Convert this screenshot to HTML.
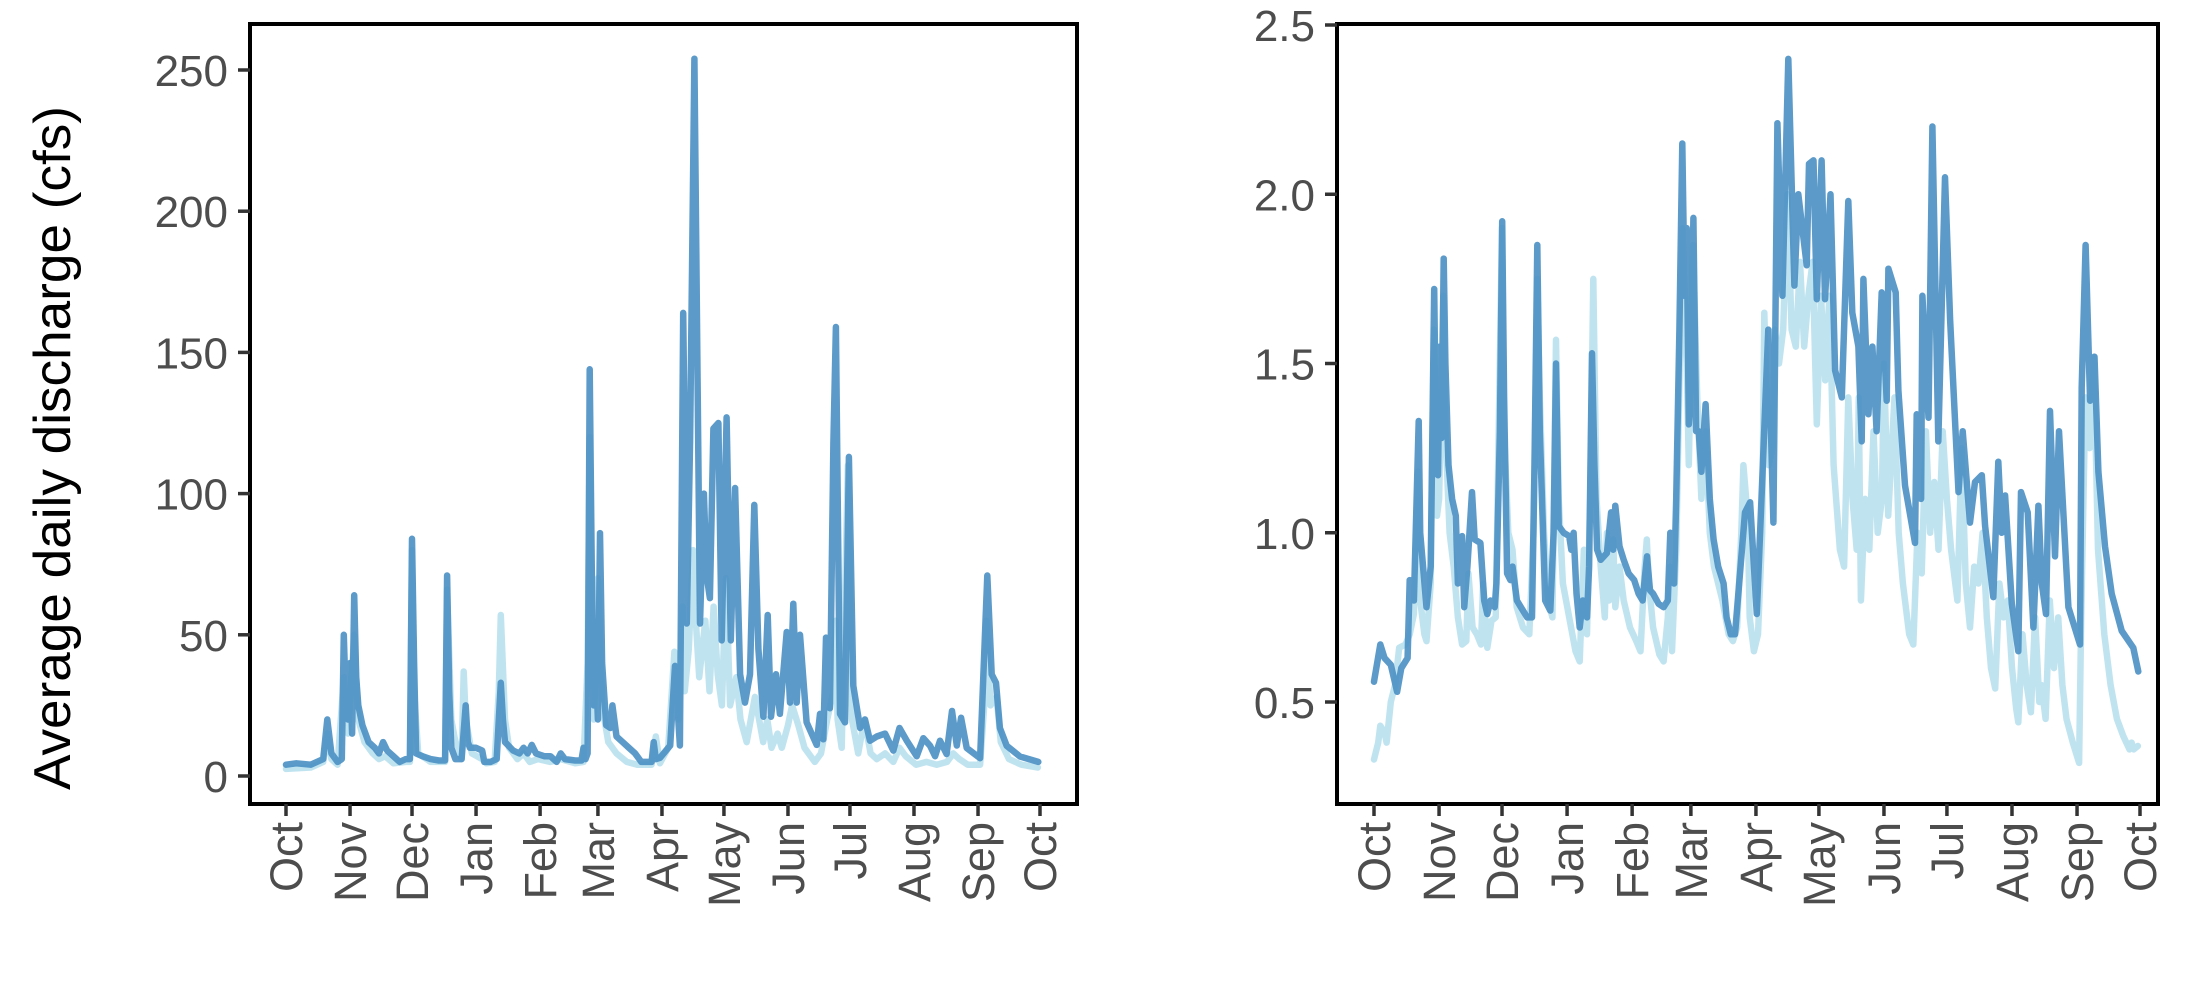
<!DOCTYPE html>
<html><head><meta charset="utf-8"><style>
html,body{margin:0;padding:0;background:#fff}
svg{display:block}
text{font-family:"Liberation Sans",Arial,sans-serif}
</style></head><body>
<svg id="chart" width="2200" height="1000" viewBox="0 0 2200 1000" xmlns="http://www.w3.org/2000/svg">
<text x="0" y="0" transform="translate(70,448) rotate(-90)" text-anchor="middle" font-size="52" fill="#000" textLength="684" lengthAdjust="spacingAndGlyphs">Average daily discharge (cfs)</text>
<g id="left-panel"></g>
<g id="right-panel"></g>
</svg>
<script>
const months = ["Oct","Nov","Dec","Jan","Feb","Mar","Apr","May","Jun","Jul","Aug","Sep","Oct"];
const monthDays = [0,31,61,92,123,151,182,212,243,273,304,335,365];
const leftTicks = [0,50,100,150,200,250];
const rightTicks = [0.5,1.0,1.5,2.0,2.5];
const rightTickLabels = ["0.5","1.0","1.5","2.0","2.5"];

const leftDarkDays = [0,5,12,18,20,22,25,27,28,29,30,31,32,33,34,35,37,40,43,45,47,49,52,55,58,60,61,62,63,66,70,74,77,78,79,80,82,85,87,88,89,92,95,96,99,102,104,105,106,110,113,115,117,119,121,125,128,131,133,135,140,143,144,145,146,147,148,149,150,151,152,153,155,157,158,160,163,166,169,172,177,178,179,181,186,188.3,190.7,192.3,194,195.6,197.7,199.1,200.4,202.3,203.6,205.2,206.9,209.3,210.9,213.3,215.3,217.4,219.8,222.2,224.6,226.7,228.7,231.1,233.2,234.8,237.2,239.1,242.4,244,245.6,247.2,248.8,252,256.9,258.5,260.1,261.4,263.3,265,266.2,268.2,270.6,272.5,274.6,277.9,280.3,282.7,286,290,294,297,300.5,305.3,308.5,311.8,314.2,316.6,319.8,322.4,324.7,326.8,329.5,336,337.6,339.5,341.6,343.7,345.6,348.9,355.3,364.2];
const leftDarkVals = [4,4.5,4,6,20,8,5,6,50,25,20,40,15,64,35,25,18,12,10,8,12,9,7,5,6,6,84,40,8,7,6,5.5,5.5,71,30,10,6,6,25,12,10,10,9,5,5,6,33,20,12,9,8,10,8,11,8,7,7,5,8,6,5.5,5.5,10,6,8,144,75,25,40,20,86,40,18,17,25,14,12,10,8,5,5,12,6,6.4,10.8,39,10.8,164,54,119,254,150,54,100,71,63,123,125,48,127,48,102,36,26,36,96,45,21,57,21,36,22,51,26,61,26,50,19,11,22,13,49,24,118,159,22,19,113,32,17,20,12.5,14,15,9,17,12.5,7,13.4,10.7,7,12.5,7.8,23,10.8,20.6,9.9,6.3,36,71,36,33,17,10.7,6.9,5];
const leftLightDays = [0,12,18,20,22,25,28,30,33,35,38,42,45,48,52,58,60,61,62,64,70,77,78,80,82,85,86,87,90,95,97,101,103,104,106,108,112,115,118,122,128,133,140,144,146,147,149,151,153,156,160,165,170,177,179,181,185,188,190,192,193,195,197,198,200,203,205,207,209,211,213,215,218,220,223,227,229,231,233,235,238,240,243,245,248,251,256,259,262,265,266,267,269,272,274,277,280,283,286,290,294,297,300,305,310,315,320,323,326,330,336,338,339,341,344,346,350,356,364];
const leftLightVals = [2.5,3,5,15,6,4,35,15,50,20,12,8,6,7,4.5,5,5,80,30,8,5,5,66,20,12,6,37,20,8,6,4.5,5,30,57,20,10,6,8,5,6,5,6,4.5,5,40,120,20,70,25,12,8,5,4,4,14,4.5,10,44,20,60,30,45,80,60,35,55,30,60,36,25,70,25,35,20,12,28,20,12,20,10,15,10,18,25,18,10,5,8,20,30,55,20,10,110,20,8,20,8,6,8,5,10,7,4,5,4,5,8,6,4,4,25,55,25,28,12,6,4,3];

const rightDarkDays = [0,3,5,8,11,13,16,17,19,21.3,22,25,27,28.7,29.5,30.5,31.3,32.2,33.2,34,35.5,37.2,39,40,42,43,44.5,46.7,48,50.7,52.5,54,55.5,57.5,58.3,60,61.1,62,63.4,65,66,68.1,70,73,75.3,76.5,77.8,79,81.6,84,85.6,86.7,88,90.4,93,94,95.1,96.5,98,99.5,101.5,102.5,103.9,105,106.3,108,111,113,114,115,117,119,121.3,124,126.1,128,130.1,131.5,133,135.6,138,140,141.2,143,144,145.5,146.9,148,149,150,151,152.2,153.5,154.7,156,158,160,161.8,164,166.6,168,170,172,176.8,179.2,182.4,184.7,187.9,190.3,192.2,194.6,197.4,200.3,202.2,206.2,207.3,209.4,211,213.3,214.9,217.5,219.7,222.9,226,227.9,230.8,232.4,233.2,235.6,237.5,239.5,241.9,244.3,245.1,248.6,249.9,253,257.8,258.6,260.7,261.3,264.2,266.1,268.9,272.1,274.5,278.5,280.5,284,286.4,289.6,291.2,295.1,297.5,299.1,300.7,303.9,307,308.3,311.5,314.2,316.6,318.2,320.2,322.1,324.5,326.4,330.9,336.4,337.2,339.1,341.2,343.3,345.2,348.3,351.5,356.3,361.8,364.2];
const rightDarkVals = [0.56,0.67,0.63,0.61,0.53,0.6,0.63,0.86,0.8,1.33,1.0,0.78,0.9,1.72,1.3,1.17,1.55,1.28,1.81,1.5,1.2,1.1,1.05,0.85,0.99,0.78,0.9,1.12,0.98,0.97,0.8,0.76,0.8,0.78,0.85,1.3,1.92,1.4,0.88,0.86,0.9,0.8,0.78,0.75,0.75,1.2,1.85,1.3,0.8,0.77,1.0,1.5,1.02,1.0,0.99,0.95,1.0,0.82,0.72,0.8,0.75,0.9,1.53,1.2,0.95,0.92,0.94,1.06,0.95,1.08,0.96,0.92,0.88,0.86,0.82,0.8,0.93,0.83,0.82,0.79,0.78,0.8,1.0,0.85,1.1,1.6,2.15,1.7,1.9,1.32,1.4,1.93,1.3,1.3,1.18,1.38,1.1,0.98,0.9,0.85,0.75,0.7,0.7,1.06,1.09,0.76,1.11,1.6,1.03,2.21,1.7,2.4,1.73,2.0,1.79,2.09,2.1,1.69,2.1,1.69,2.0,1.48,1.4,1.98,1.65,1.55,1.27,1.75,1.35,1.55,1.3,1.71,1.39,1.78,1.71,1.42,1.14,0.97,1.35,1.1,1.7,1.34,2.2,1.27,2.05,1.63,1.12,1.3,1.03,1.15,1.17,1.02,0.81,1.21,1.0,1.11,0.79,0.65,1.12,1.06,0.72,1.08,0.85,0.76,1.36,0.93,1.3,0.78,0.67,1.43,1.85,1.39,1.52,1.18,0.96,0.82,0.71,0.66,0.59];
const rightLightDays = [0,2,3,5,6,8,10,12,15,17,19,21,22,24,25,27,28.5,30,31,33,34,36,38,40,42,44,45,47,49,51,52,54,56,58,61,62,64,66,68,71,74,76,77.8,79,81,83,85,86.7,88,90,93,96,98,100,101.5,103,104.5,106,108,110,111,112,114,115,117,119,122,125,127,129,130,131,133,136,138,140,141,142,144,146,147,149,150,152,154,156,158,160,162,166,169,171,173,175,176,178,179,181,183,185,186,188,190,191,193,195,197,199,201,203,205,207,209,211,213,215,217,219,222,224,226,228,230,231,232,234,236,238,240,242,243,245,248,250,252,255,257,259,261,263,265,267,269,271,273,275,278,280,282,284,286,288,290,292,294,296,298,300,302,304,306,307,309,311,313,315,317,318,320,322,324,326,328,330,333,336,337,339,341,343,345,348,351,354,357,360,361,362,364];
const rightLightVals = [0.33,0.38,0.43,0.41,0.38,0.5,0.55,0.66,0.67,0.7,0.76,1.18,0.8,0.7,0.68,0.85,1.6,1.05,1.1,1.7,1.3,1.0,0.9,0.75,0.67,0.68,0.88,0.72,0.7,0.67,0.85,0.66,0.74,0.75,1.9,1.3,1.0,0.95,0.78,0.72,0.7,1.0,1.75,1.4,1.0,0.8,0.75,1.57,1.1,0.85,0.75,0.65,0.62,0.95,0.7,1.1,1.75,1.1,0.9,0.75,1.0,0.8,0.98,0.78,0.9,0.8,0.72,0.68,0.65,0.9,0.98,0.85,0.72,0.64,0.62,0.75,0.9,0.65,0.95,1.6,1.9,1.5,1.2,1.85,1.4,1.1,1.3,1.0,0.9,0.8,0.7,0.68,0.72,1.0,1.2,1.05,0.75,0.65,0.7,1.0,1.65,1.2,1.25,1.6,1.5,1.6,2.0,1.6,1.55,1.8,1.55,1.7,1.8,1.32,1.7,1.45,1.7,1.2,0.95,0.9,1.4,1.1,0.95,1.4,0.8,1.1,0.95,1.3,1.0,1.1,1.5,1.05,1.4,1.0,0.85,0.7,0.67,1.0,0.88,1.3,1.0,1.15,0.95,1.3,1.1,0.95,0.8,1.25,0.85,0.72,0.9,0.85,1.0,0.75,0.6,0.54,0.85,0.75,0.8,0.6,0.48,0.44,0.7,0.55,0.47,0.75,0.5,0.55,0.45,0.8,0.6,0.75,0.55,0.45,0.38,0.32,0.75,1.4,1.25,1.52,0.95,0.7,0.55,0.45,0.4,0.36,0.38,0.36,0.37];

const NS = "http://www.w3.org/2000/svg";
function mk(tag, attrs, parent) {
  const e = document.createElementNS(NS, tag);
  for (const k in attrs) e.setAttribute(k, attrs[k]);
  parent.appendChild(e);
  return e;
}

function drawPanel(g, box, x0, x1, yMin, yMax, yPx0, yPx1, ticks, tickLabels, series, prefix) {
  const xs = d => x0 + (x1 - x0) * d / 365;
  const ys = v => yPx0 + (yPx1 - yPx0) * (v - yMin) / (yMax - yMin);
  series.forEach(s => {
    let d = "";
    s.days.forEach((day, i) => { d += (i ? "L" : "M") + xs(day).toFixed(1) + "," + ys(s.vals[i]).toFixed(1); });
    const p = mk("path", {d: d, fill: "none", stroke: s.color, "stroke-width": 6.5, "stroke-linejoin": "round", "stroke-linecap": "round", opacity: s.op}, g);
    
    
  });
  const frame = mk("rect", {x: box.l, y: box.t, width: box.r - box.l, height: box.b - box.t, fill: "none", stroke: "#000", "stroke-width": 4}, g);
  
  
  ticks.forEach((t, i) => {
    const y = ys(t);
    const tk = mk("line", {x1: box.l - 12, x2: box.l, y1: y, y2: y, stroke: "#333", "stroke-width": 3.5}, g);
    
    
    const tl = mk("text", {x: box.l - 22, y: y + 16, "text-anchor": "end", "font-size": 44, fill: "#4d4d4d"}, g);
    tl.textContent = tickLabels[i];
    
    
  });
  monthDays.forEach((md, i) => {
    const x = xs(md);
    const tk = mk("line", {x1: x, x2: x, y1: box.b, y2: box.b + 12, stroke: "#333", "stroke-width": 3.5}, g);
    
    
    const tl = mk("text", {x: 0, y: 0, transform: "translate(" + (x + 16) + "," + (box.b + 18) + ") rotate(-90)", "text-anchor": "end", "font-size": 45, fill: "#4d4d4d"}, g);
    tl.textContent = months[i];
    
    
  });
}

const DARK = "#4a8fc3", LIGHT = "#bde2ef";
drawPanel(document.getElementById("left-panel"), {l: 250, r: 1077, t: 24, b: 804}, 286, 1040, 0, 250, 776, 70,
  leftTicks, leftTicks.map(String),
  [{days: leftLightDays, vals: leftLightVals, color: LIGHT, op: 0.95, name: "left-light-series"},
   {days: leftDarkDays, vals: leftDarkVals, color: DARK, op: 0.9, name: "left-dark-series"}], "left");
drawPanel(document.getElementById("right-panel"), {l: 1337, r: 2158, t: 24, b: 804}, 1374, 2140, 0.5, 2.5, 702, 25,
  rightTicks, rightTickLabels,
  [{days: rightLightDays, vals: rightLightVals, color: LIGHT, op: 0.95, name: "right-light-series"},
   {days: rightDarkDays, vals: rightDarkVals, color: DARK, op: 0.9, name: "right-dark-series"}], "right");
</script>
</body></html>
